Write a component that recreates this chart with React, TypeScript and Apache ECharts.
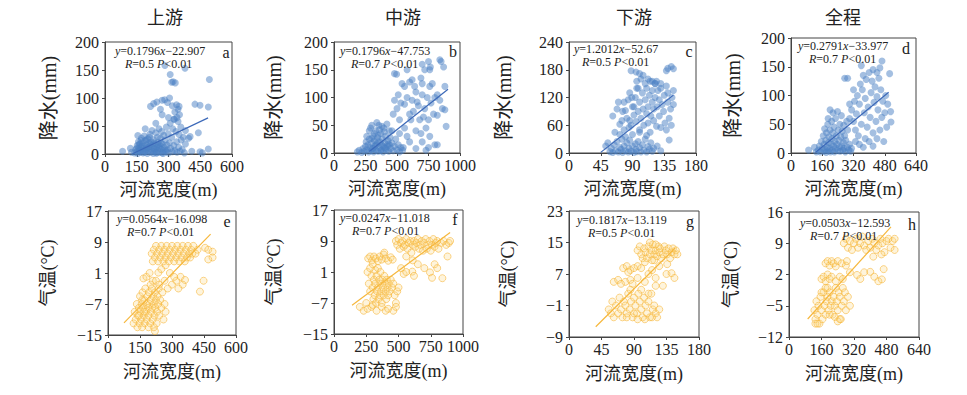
import React, { useEffect, useRef } from 'react';
import * as echarts from 'echarts';

// ---------- data ----------
const panelTitles = ['上游', '中游', '下游', '全程'];
const panelLetters = ['a', 'b', 'c', 'd', 'e', 'f', 'g', 'h'];
const xAxisName = '河流宽度(m)';
const yNamePrecip = '降水(mm)';
const yNameTemp = '气温(°C)';

const xMax = [600, 1000, 180, 640, 600, 1000, 180, 640];
const xStep = [150, 250, 45, 160, 150, 250, 45, 160];
const yMin = [0, 0, 0, 0, -15, -15, -9, -12];
const yMax = [200, 200, 240, 200, 17, 17, 23, 16];
const yStep = [50, 50, 60, 50, 8, 8, 8, 7];

const slopes = [0.1796, 0.1796, 1.2012, 0.2791, 0.0564, 0.0247, 0.1817, 0.0503];
const intercepts = [-22.907, -47.753, -52.67, -33.977, -16.098, -11.018, -13.119, -12.593];
const lineStart = [130, 280, 45, 125, 75, 140, 37, 92];
const lineEnd = [487, 905, 148, 500, 481, 900, 147, 502];
const eqTexts = ['0.1796', '0.1796', '1.2012', '0.2791', '0.0564', '0.0247', '0.1817', '0.0503'];
const eqIntercepts = ['22.907', '47.753', '52.67', '33.977', '16.098', '11.018', '13.119', '12.593'];
const rValues = ['0.5', '0.7', '0.5', '0.7', '0.7', '0.7', '0.5', '0.7'];

const upstreamPrecip = [
  [140,2],[145,8],[150,4],[152,15],[155,1],[158,22],[160,10],[162,5],[165,18],[168,3],[170,12],[172,28],[175,7],[178,20],[180,2],[182,14],[185,32],[188,9],[190,24],[192,4],[195,16],[198,11],[200,1],[202,27],[205,6],[208,19],[210,13],[212,35],[215,3],[218,22],[220,8],[222,42],[225,15],[228,1],[230,26],[232,10],[235,5],[238,18],[240,38],[242,2],[245,12],[248,30],[250,7],[252,21],[255,45],[258,3],[260,15],[262,28],[265,9],[268,40],[270,2],[272,18],[275,6],[278,33],[280,12],[285,25],[288,4],[290,48],[292,16],[295,8],[298,36],[300,2],[305,20],[308,55],[310,10],[315,30],[318,4],[320,45],[325,15],[328,62],[330,6],[335,40],[338,22],[340,3],[345,58],[348,12],[350,35],[355,5],[358,48],[360,25],[365,8],[370,30],[375,2],[380,18],
  [215,85],[230,90],[245,93],[262,80],[270,96],[282,97],[295,92],[305,100],[318,86],[330,75],[338,88],[345,80],[350,85],[352,70],[340,65],[325,62],[315,128],[322,129],[332,127],[283,158],[378,153],[308,142],[300,65],[270,70],[240,55],[190,45],[155,33],[120,10],[125,3],[83,5],
  [425,89],[449,87],[488,84],[493,133],[441,38],[402,31],[449,4],[488,9],[380,42],[395,28],[460,2],[410,5],
  [165,6],[175,14],[185,3],[195,8],[205,12],[215,17],[225,4],[235,9],[245,2],[255,11],[265,19],[275,1],[285,7],[195,25],[210,30],[230,20],[250,16],[170,24],[160,17],[150,10]
];

const midPrecip = [
  [185,2],[200,5],[220,1],[230,8],[240,3],[250,12],[255,20],[260,6],[270,15],[275,2],[280,25],[285,10],[290,45],[295,4],[300,18],[305,8],[310,30],[315,2],[320,22],[325,12],[330,40],[335,5],[340,16],[345,28],[350,3],[355,50],[360,10],[365,20],[370,35],[375,6],[380,14],[385,25],[390,2],[395,45],[400,10],[405,18],[410,30],[415,5],[420,52],[425,12],[430,22],[435,3],[440,15],[445,28],[450,8],[460,18],[470,4],[480,12],[490,25],[500,6],[510,15],[520,2],[530,10],[545,5],[300,50],[280,40],[260,30],[340,55],[380,48],[400,38],
  [310,8],[330,14],[350,20],[370,4],[390,12],[410,8],[430,16],[350,32],[320,35],[300,26],[360,42],[440,40],
  [700,160],[750,165],[765,155],[840,168],[850,165],[870,155],[760,150],[720,150],[580,150],[480,143],[497,142],
  [540,125],[560,120],[600,128],[620,132],[650,110],[700,105],[760,120],[780,125],[800,100],[820,105],[880,120],[860,80],[880,78],[890,48],[820,68],[750,60],[720,80],[680,60],[650,40],[600,70],[560,45],[520,60],[480,95],[500,80],[470,70],[460,40],[600,20],[700,20],[750,10],[800,15],[820,15],[730,5],[650,8],[550,10],[620,95],[660,92],[560,88],[700,125],[740,100],[690,135],[640,120],
  [510,105],[530,90],[580,100],[610,60],[630,75],[670,85],[710,65],[730,45],[770,90],[790,70],[840,95],[520,35],[580,30],[690,35],[760,30]
];

const downPrecip = [
  [58,3],[60,10],[62,1],[64,18],[66,5],[68,25],[70,2],[72,12],[74,8],[75,30],[76,1],[78,15],[80,5],[82,22],[84,2],[85,10],[86,28],[88,4],[90,15],[92,1],[94,20],[95,8],[96,3],[98,25],[100,12],[102,2],[104,18],[106,6],[108,30],[110,2],[112,14],[114,8],[116,22],[118,4],[120,10],[125,15],[130,5],[80,35],[72,40],[65,45],[90,40],[100,45],[110,38],
  [55,22],[52,15],[62,80],[68,95],[70,110],[72,62],[75,70],[78,50],[80,92],[82,75],[84,115],[85,55],[86,130],[88,60],[90,100],[92,82],[94,120],[95,68],[96,140],[98,90],[100,50],[100,110],[102,75],[104,130],[105,95],[106,60],[108,150],[108,115],[110,85],[110,140],[112,65],[112,100],[114,125],[115,45],[115,155],[116,80],[118,110],[118,135],[120,70],[120,95],[122,120],[122,150],[124,58],[125,100],[126,135],[128,80],[128,115],[130,140],[130,55],[132,105],[134,90],[135,125],[136,65],[138,145],[140,110],[140,130],[142,75],[144,95],[145,60],[146,120],[148,105],[148,135],[142,28],[138,50],[78,110],[76,90],[92,100],[96,155],[102,160],[98,140],[89,120],[86,70],[130,150],[124,155],
  [140,183],[145,187],[148,182],[138,178],[88,178],[95,175],[100,172],[105,168],[112,160],[118,155],[122,150]
];

const wholePrecip = [
  [140,5],[145,12],[150,2],[155,20],[160,8],[165,30],[168,3],[170,15],[172,42],[175,6],[178,22],[180,1],[182,35],[185,10],[188,50],[190,4],[192,18],[195,28],[198,8],[200,40],[202,2],[205,15],[208,55],[210,25],[212,5],[215,35],[218,12],[220,45],[222,2],[225,20],[228,60],[230,8],[232,30],[235,15],[238,72],[240,4],[242,40],[245,22],[248,10],[250,50],[252,3],[255,28],[258,65],[260,12],[262,38],[265,5],[268,18],[270,48],[272,8],[275,30],[278,2],[280,22],[285,55],[288,10],[290,40],[295,5],[300,15],[305,3],[310,8],[120,10],[130,2],[90,5],[200,75],[215,70],[190,60],
  [300,60],[310,75],[320,55],[325,90],[330,40],[335,68],[340,100],[345,30],[350,85],[355,120],[360,50],[365,110],[370,135],[375,70],[380,95],[385,128],[390,45],[395,80],[400,140],[405,62],[410,105],[415,125],[420,35],[425,88],[430,115],[435,55],[440,98],[445,75],[450,130],[455,40],[460,110],[465,62],[470,90],[475,20],[480,70],[485,100],[490,45],[495,85],[505,138],[510,72],[512,54],[466,160],[360,152],[275,130],[290,130],[330,20],[350,15],[380,25],[420,12],[400,20],[440,25],[370,10],[320,110],[300,85],[440,140],[455,148],[420,145]
];

const upstreamTemp = [
  [120,-12],[125,-9],[130,-11],[135,-7],[138,-13],[140,-10],[145,-8],[148,-12],[150,-5],[152,-9],[155,-11],[158,-7],[160,-13],[162,-4],[165,-8],[168,-10],[170,-6],[172,-12],[175,-3],[178,-9],[180,-7],[182,-11],[185,-5],[188,-8],[190,-10],[192,-4],[195,-7],[198,-12],[200,-6],[202,-9],[205,-3],[208,-8],[210,-11],[212,-5],[215,-7],[218,-10],[220,-4],[222,-8],[225,-6],[228,-12],[230,-9],[232,-5],[235,-7],[238,-3],[240,-10],[245,-6],[250,-8],[255,-4],[260,-11],[265,-7],[270,-9],[220,-14],[215,-13],[190,-13],[170,-9],[160,-6],[145,-10],[200,-2],[210,-1],
  [166,-0.4],[180,0],[195,1],[236,1.1],[250,2],[225,-1],[240,-2],[265,-1],[280,-3],[300,-2],[320,-1],[340,0],[361,-0.8],[350,-2],[330,-3],[310,0],[290,1],[270,3],
  [205,6],[210,4],[215,7],[220,5],[225,8],[230,6],[235,4],[240,7],[245,5],[250,8],[255,6],[260,4],[265,7],[270,5],[275,8],[280,6],[285,4],[290,7],[295,5],[300,8],[305,6],[310,4],[315,7],[320,5],[325,8],[330,6],[335,4],[340,7],[345,5],[350,8],[355,6],[360,4],[365,7],[370,5],[375,8],[380,6],[385,5],[390,7],[395,6],[400,8],
  [455,7.5],[470,7],[490,6.5],[490,5],[470,4.5],[448,-1],[431,-3.8],[420,7],[410,6]
];

const midTemp = [
  [480,9],[490,8],[500,9.5],[510,7],[520,8.5],[530,9],[540,7.5],[550,8],[560,9.5],[570,7],[580,8.5],[590,9],[600,6],[610,8],[620,9],[630,7.5],[640,8.5],[650,9.5],[660,7],[670,8],[680,9],[690,6.5],[700,8.5],[710,9.5],[720,7],[730,8],[740,9],[750,6.5],[760,8],[770,9.5],[780,7.5],[790,8.5],[800,9],[810,7],[830,8.5],[850,9],[870,8],[890,8.5],[900,9],[880,5],[560,5],[610,4],
  [265,4.5],[280,5],[295,4],[310,5],[325,4.5],[340,3.8],[355,5],[370,4.2],[385,5.5],[400,4.5],[420,3.9],[440,4.8],[455,4.2],[390,6],
  [520,2],[540,0.5],[607,1.1],[620,0],[700,2],[744,0.9],[760,-0.5],[780,3],[840,-0.6],[800,2],[650,3],[560,1],
  [260,1],[270,-2],[280,-4],[290,0],[300,-3],[305,-6],[310,-1],[315,-5],[320,-2],[325,-7],[330,0],[335,-4],[340,-3],[345,-6],[350,-1],[355,-5],[360,-2],[365,-4],[370,-7],[375,-1],[380,-3],[385,-5],[390,0],[395,-2],[400,-4],[405,-6],[410,-1],[415,-3],[420,-5],[425,-2],[430,-4],[440,-1],[450,-3],[460,-2],[470,-5],[480,-7],[490,-4],[500,-3],[320,1.5],[340,2],[360,1],[280,2],[300,3],
  [200,-8],[230,-9],[260,-8.5],[290,-8],[330,-9],[370,-8],[400,-9],[420,-8.5],[460,-9],[480,-8],[250,-7],[300,-7.5]
];

const downTemp = [
  [95,13],[98,14],[100,12],[102,11],[104,13.5],[106,12.5],[108,11],[110,14],[112,12],[114,13],[115,10.5],[116,14.5],[118,12],[120,13],[122,11.5],[124,14],[125,12.5],[126,13.5],[128,11],[130,12],[132,14],[134,13],[136,12],[138,13.5],[140,11],[142,12.5],[144,13.5],[146,12],[148,13],[150,12],[112,15],[120,14.5],[105,10],[118,10.5],
  [75,8.5],[80,9],[85,8],[90,8.5],[95,9],[100,8.5],[82,7.5],
  [62,5],[68,5.5],[72,4.5],[78,5],[85,5.5],[88,4.5],
  [95,6],[105,5],[110,7],[115,8],[120,6],[125,9],[130,4],[135,7],[142,7.2],[146,6],[136,9.5],[100,3],[110,2],[120,4],
  [55,-2],[58,-3],[60,0],[62,-4],[65,-1],[68,-3],[70,1],[72,-2],[74,-4],[76,0],[78,-1],[80,-3],[82,2],[84,-2],[86,0],[88,-4],[90,1],[92,-1],[94,-3],[96,2],[98,0],[100,-2],[102,-4],[104,1],[106,-1],[108,-3],[110,0],[112,-4],[114,2],[116,-2],[118,-1],[120,-3],[122,-4],[125,-2],[85,3],[90,-3],[95,-4.5],[105,-4.5],[115,-4],[80,-4]
];

const wholeTemp = [
  [270,9],[280,10],[290,8],[300,9.5],[310,7.5],[320,9],[330,10],[340,8],[350,9],[360,10.5],[370,8.5],[380,7.5],[390,9.5],[400,8],[410,10],[420,9],[430,7.5],[440,8.5],[450,10],[460,9],[470,7],[480,9.5],[490,10],[500,8],[510,9.5],[520,10],[455,6.5],[415,6],[520,7.5],
  [180,4.5],[190,5],[200,4],[210,5],[220,4.5],[230,3.8],[240,5],[260,4.5],[280,4],[285,5],
  [160,1],[170,1.5],[180,0.5],[190,2],[200,1],[210,1.5],[230,0.5],[250,1.5],[265,1],
  [335,1.9],[351,1],[370,2.5],[400,2.6],[420,1.5],[440,0.5],[466,3.2],[457,0.9],[300,2.5],
  [125,-6],[130,-8],[135,-4],[140,-7],[145,-5],[150,-9],[155,-3],[160,-6],[165,-8],[170,-2],[175,-5],[180,-7],[185,-4],[190,-3],[195,-6],[200,-2],[205,-5],[210,-4],[215,-7],[220,-3],[225,-5],[230,-1],[235,-4],[240,-6],[245,-2],[250,-3],[255,-8],[260,-5],[265,-1],[270,-4],[275,-2],[280,-6],[290,-3],[300,-5],[240,-8.5],[250,-8],[225,-7.5],[130,-9],[140,-9],[200,-7],[190,-1],[180,-1],[160,-2]
];

const panelData = [upstreamPrecip, midPrecip, downPrecip, wholePrecip, upstreamTemp, midTemp, downTemp, wholeTemp];

// ---------- layout ----------
const grids = [
  { left: 105, top: 42, width: 127, height: 112 },
  { left: 334, top: 42, width: 126, height: 111 },
  { left: 569, top: 42, width: 127, height: 111 },
  { left: 791, top: 38, width: 125, height: 115 },
  { left: 108, top: 211, width: 128, height: 124 },
  { left: 334, top: 210, width: 129, height: 124 },
  { left: 569, top: 211, width: 130, height: 126 },
  { left: 789, top: 212, width: 130, height: 125 },
];
const titleX = [165, 403, 634, 843];
const eqPos = [[115, 51], [340, 51], [574, 49], [798, 46], [117, 219], [340, 218], [577, 220], [800, 223]];
const rPos = [[125, 64], [351, 64], [582, 62], [809, 59], [127, 232], [352, 231], [588, 233], [810, 236]];
const letterPos = [[226, 52], [453, 51], [689, 51], [906, 48], [227, 221], [455, 219], [690, 221], [912, 224]];
const yNameGap = [46, 50, 55, 48, 51, 51, 52, 49];
const yNameSize = [20, 20, 20, 20, 18, 18, 18, 18];

const SERIF = '"Liberation Serif", "Times New Roman", "Noto Sans CJK SC", serif';
const CJK = '"Noto Sans CJK SC", sans-serif';
const BLUE = '#4a7fc4';
const BLUE_LINE = '#3b68b8';
const ORANGE = '#f6b73c';
const ORANGE_FILL = 'rgba(252, 214, 120, 0.35)';
const AXIS = '#444';

const fmt = (v: number) => (v < 0 ? '\u2212' + Math.abs(v) : String(v));

export default function App() {
  const ref = useRef<HTMLDivElement>(null);
  useEffect(() => {
    if (!ref.current) return;
    const chart = echarts.init(ref.current, undefined, { renderer: 'svg' });
    const xAxis: any[] = [];
    const yAxis: any[] = [];
    const series: any[] = [];
    const graphic: any[] = [];
    grids.forEach((_, i) => {
      const isTemp = i >= 4;
      xAxis.push({
        type: 'value', gridIndex: i, min: 0, max: xMax[i], interval: xStep[i],
        name: xAxisName, nameLocation: 'middle', nameGap: isTemp ? 28 : 27,
        nameTextStyle: { fontFamily: SERIF, fontSize: 18, color: '#222' },
        axisLine: { show: true, onZero: false, lineStyle: { color: AXIS } },
        axisTick: { show: true, inside: false, length: 3, lineStyle: { color: AXIS } },
        axisLabel: { fontFamily: SERIF, fontSize: 16, color: '#222', margin: 4, formatter: fmt },
        splitLine: { show: false },
      });
      yAxis.push({
        type: 'value', gridIndex: i, min: yMin[i], max: yMax[i], interval: yStep[i],
        name: isTemp ? yNameTemp : yNamePrecip, nameLocation: 'middle', nameGap: yNameGap[i],
        nameTextStyle: { fontFamily: SERIF, fontSize: yNameSize[i], color: '#222' },
        axisLine: { show: true, onZero: false, lineStyle: { color: AXIS } },
        axisTick: { show: true, inside: false, length: 3, lineStyle: { color: AXIS } },
        axisLabel: { fontFamily: SERIF, fontSize: 16, color: '#222', margin: 6, formatter: fmt },
        splitLine: { show: false },
      });
      series.push({
        type: 'scatter', xAxisIndex: i, yAxisIndex: i, data: panelData[i], symbolSize: 7,
        itemStyle: isTemp
          ? { color: ORANGE_FILL, borderColor: ORANGE, borderWidth: 0.8, opacity: 0.75 }
          : { color: BLUE, opacity: 0.5 },
        z: 2,
      });
      const x0 = lineStart[i], x1 = lineEnd[i];
      series.push({
        type: 'line', xAxisIndex: i, yAxisIndex: i, symbol: 'none', silent: true,
        data: [[x0, slopes[i] * x0 + intercepts[i]], [x1, slopes[i] * x1 + intercepts[i]]],
        lineStyle: { color: isTemp ? ORANGE : BLUE_LINE, width: 1.2 }, z: 3,
      });
      graphic.push({
        type: 'text', x: eqPos[i][0], y: eqPos[i][1], z: 10,
        style: {
          text: `{i|y}=${eqTexts[i]}{i|x}\u2212${eqIntercepts[i]}`,
          fontFamily: SERIF, fontSize: 12, lineHeight: 12, fill: '#222', verticalAlign: 'middle', align: 'left',
          rich: { i: { fontStyle: 'italic', fontFamily: SERIF, fontSize: 12, lineHeight: 12, fill: '#222' } },
        },
      });
      graphic.push({
        type: 'text', x: rPos[i][0], y: rPos[i][1], z: 10,
        style: {
          text: `{i|R}=${rValues[i]} {i|P}<0.01`,
          fontFamily: SERIF, fontSize: 12, lineHeight: 12, fill: '#222', verticalAlign: 'middle', align: 'left',
          rich: { i: { fontStyle: 'italic', fontFamily: SERIF, fontSize: 12, lineHeight: 12, fill: '#222' } },
        },
      });
      graphic.push({
        type: 'text', x: letterPos[i][0], y: letterPos[i][1], z: 10,
        style: { text: panelLetters[i], fontFamily: SERIF, fontSize: 16, fill: '#222', verticalAlign: 'middle', align: 'center' },
      });
    });
    panelTitles.forEach((t, i) => {
      graphic.push({
        type: 'text', x: titleX[i], y: 16, z: 10,
        style: { text: t, fontFamily: CJK, fontSize: 18, fill: '#222', verticalAlign: 'middle', align: 'center' },
      });
    });
    chart.setOption({
      animation: false,
      backgroundColor: '#fff',
      grid: grids.map((g) => ({ ...g, show: true, borderColor: AXIS, borderWidth: 1, backgroundColor: 'transparent' })),
      xAxis, yAxis, series, graphic,
    });
    return () => chart.dispose();
  }, []);
  return <div ref={ref} style={{ position: 'fixed', left: 0, top: 0, width: 967, height: 395 }} />;
}
